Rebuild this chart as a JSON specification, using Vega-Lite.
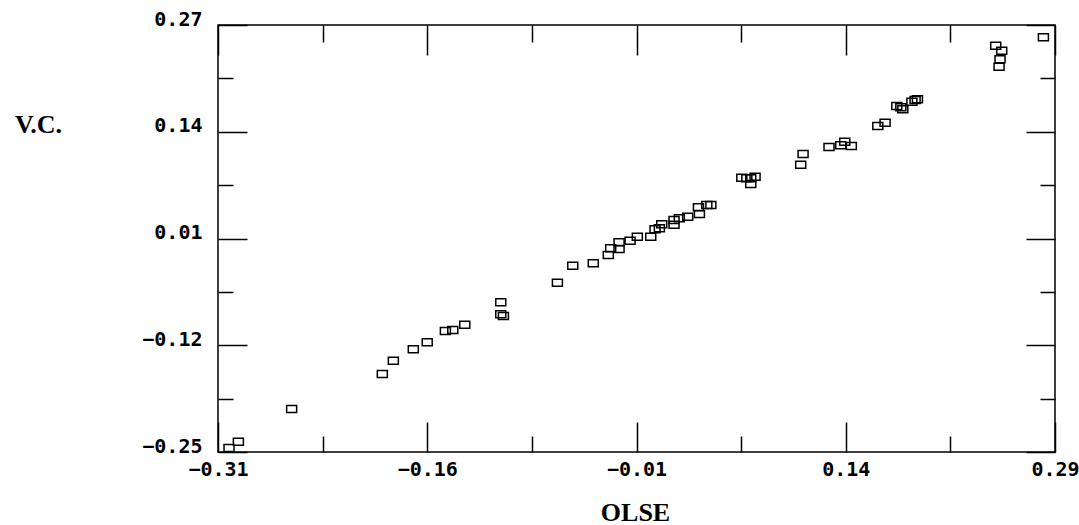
{
  "$schema": "https://vega.github.io/schema/vega-lite/v6.json",
  "autosize": {"type": "none"},
  "width": 837,
  "height": 427,
  "padding": {"left": 218, "top": 25, "right": 24, "bottom": 73},
  "background": "white",
  "config": {
    "view": {"stroke": "black", "strokeWidth": 1.5},
    "axis": {"grid": false, "domain": false}
  },
  "data": {"values": [
    {"olse": -0.3021, "vc": -0.2451},
    {"olse": -0.2954, "vc": -0.2375},
    {"olse": -0.2572, "vc": -0.1976},
    {"olse": -0.1922, "vc": -0.1550},
    {"olse": -0.1843, "vc": -0.1388},
    {"olse": -0.1700, "vc": -0.1249},
    {"olse": -0.1600, "vc": -0.1164},
    {"olse": -0.1470, "vc": -0.1026},
    {"olse": -0.1417, "vc": -0.1014},
    {"olse": -0.1331, "vc": -0.0950},
    {"olse": -0.1073, "vc": -0.0677},
    {"olse": -0.1073, "vc": -0.0823},
    {"olse": -0.1054, "vc": -0.0844},
    {"olse": -0.0667, "vc": -0.0438},
    {"olse": -0.0557, "vc": -0.0231},
    {"olse": -0.0410, "vc": -0.0202},
    {"olse": -0.0302, "vc": -0.0101},
    {"olse": -0.0285, "vc": -0.0019},
    {"olse": -0.0225, "vc": -0.0028},
    {"olse": -0.0225, "vc": 0.0054},
    {"olse": -0.0146, "vc": 0.0073},
    {"olse": -0.0094, "vc": 0.0122},
    {"olse": 0.0002, "vc": 0.0122},
    {"olse": 0.0033, "vc": 0.0212},
    {"olse": 0.0064, "vc": 0.0224},
    {"olse": 0.0081, "vc": 0.0273},
    {"olse": 0.0169, "vc": 0.0268},
    {"olse": 0.0169, "vc": 0.0325},
    {"olse": 0.0207, "vc": 0.0346},
    {"olse": 0.0267, "vc": 0.0366},
    {"olse": 0.0351, "vc": 0.0398},
    {"olse": 0.0344, "vc": 0.0480},
    {"olse": 0.0404, "vc": 0.0508},
    {"olse": 0.0433, "vc": 0.0508},
    {"olse": 0.0655, "vc": 0.0840},
    {"olse": 0.0691, "vc": 0.0833},
    {"olse": 0.0719, "vc": 0.0833},
    {"olse": 0.0750, "vc": 0.0853},
    {"olse": 0.0719, "vc": 0.0764},
    {"olse": 0.1077, "vc": 0.0999},
    {"olse": 0.1094, "vc": 0.1129},
    {"olse": 0.1280, "vc": 0.1214},
    {"olse": 0.1364, "vc": 0.1235},
    {"olse": 0.1393, "vc": 0.1279},
    {"olse": 0.1440, "vc": 0.1226},
    {"olse": 0.1630, "vc": 0.1470},
    {"olse": 0.1682, "vc": 0.1510},
    {"olse": 0.1766, "vc": 0.1714},
    {"olse": 0.1795, "vc": 0.1698},
    {"olse": 0.1809, "vc": 0.1673},
    {"olse": 0.1874, "vc": 0.1766},
    {"olse": 0.1897, "vc": 0.1787},
    {"olse": 0.1914, "vc": 0.1795},
    {"olse": 0.2475, "vc": 0.2448},
    {"olse": 0.2518, "vc": 0.2387},
    {"olse": 0.2506, "vc": 0.2282},
    {"olse": 0.2499, "vc": 0.2192},
    {"olse": 0.2817, "vc": 0.2550}
  ]},
  "resolve": {"axis": {"x": "independent", "y": "independent"}},
  "layer": [
    {
      "mark": {"type": "point", "shape": "M-1,-0.7H1V0.7H-1Z", "size": 100, "filled": false, "stroke": "black", "strokeWidth": 1.5, "opacity": 1},
      "encoding": {
        "x": {"field": "olse", "type": "quantitative",
          "scale": {"domain": [-0.31, 0.29], "nice": false, "zero": false},
          "axis": {"orient": "bottom", "values": [-0.31, -0.16, -0.01, 0.14, 0.29], "format": ".2f",
            "ticks": false, "labelFont": "DejaVu Sans Mono", "labelFontWeight": "bold", "labelFontSize": 20,
            "labelColor": "black", "labelPadding": 7, "labelFlush": false, "labelOverlap": false,
            "title": "OLSE", "titleFont": "Liberation Serif", "titleFontWeight": "bold", "titleFontSize": 26,
            "titleColor": "black", "titleX": 417, "titleY": 60, "titleAlign": "center", "titleBaseline": "middle"}},
        "y": {"field": "vc", "type": "quantitative",
          "scale": {"domain": [-0.25, 0.27], "nice": false, "zero": false},
          "axis": {"orient": "left", "values": [-0.25, -0.12, 0.01, 0.14, 0.27], "format": ".2f",
            "ticks": false, "labelFont": "DejaVu Sans Mono", "labelFontWeight": "bold", "labelFontSize": 20,
            "labelColor": "black", "labelPadding": 16, "labelOffset": -6, "labelFlush": false, "labelOverlap": false,
            "title": "V.C.", "titleFont": "Liberation Serif", "titleFontWeight": "bold", "titleFontSize": 26,
            "titleColor": "black", "titleAngle": 0, "titleX": -180, "titleY": 99, "titleAlign": "center", "titleBaseline": "middle"}}
      }
    },
    {
      "mark": {"type": "point", "opacity": 0},
      "encoding": {
        "x": {"field": "olse", "type": "quantitative",
          "axis": {"orient": "bottom", "values": [-0.31, -0.16, -0.01, 0.14, 0.29], "labels": false, "title": null,
            "tickSize": -30, "tickWidth": 1.5, "tickColor": "black"}},
        "y": {"field": "vc", "type": "quantitative",
          "axis": {"orient": "left", "values": [-0.25, -0.12, 0.01, 0.14, 0.27], "labels": false, "title": null,
            "tickSize": -29, "tickWidth": 1.5, "tickColor": "black"}}
      }
    },
    {
      "mark": {"type": "point", "opacity": 0},
      "encoding": {
        "x": {"field": "olse", "type": "quantitative",
          "axis": {"orient": "bottom", "values": [-0.235, -0.085, 0.065, 0.215], "labels": false, "title": null,
            "tickSize": -16, "tickWidth": 1.5, "tickColor": "black"}},
        "y": {"field": "vc", "type": "quantitative",
          "axis": {"orient": "left", "values": [-0.185, -0.055, 0.075, 0.205], "labels": false, "title": null,
            "tickSize": -15, "tickWidth": 1.5, "tickColor": "black"}}
      }
    },
    {
      "mark": {"type": "point", "opacity": 0},
      "encoding": {
        "x": {"field": "olse", "type": "quantitative",
          "axis": {"orient": "top", "values": [-0.31, -0.16, -0.01, 0.14, 0.29], "labels": false, "title": null,
            "tickSize": -30, "tickWidth": 1.5, "tickColor": "black"}},
        "y": {"field": "vc", "type": "quantitative",
          "axis": {"orient": "right", "values": [-0.25, -0.12, 0.01, 0.14, 0.27], "labels": false, "title": null,
            "tickSize": -29, "tickWidth": 1.5, "tickColor": "black"}}
      }
    },
    {
      "mark": {"type": "point", "opacity": 0},
      "encoding": {
        "x": {"field": "olse", "type": "quantitative",
          "axis": {"orient": "top", "values": [-0.235, -0.085, 0.065, 0.215], "labels": false, "title": null,
            "tickSize": -17, "tickWidth": 1.5, "tickColor": "black"}},
        "y": {"field": "vc", "type": "quantitative",
          "axis": {"orient": "right", "values": [-0.185, -0.055, 0.075, 0.205], "labels": false, "title": null,
            "tickSize": -15, "tickWidth": 1.5, "tickColor": "black"}}
      }
    }
  ]
}
